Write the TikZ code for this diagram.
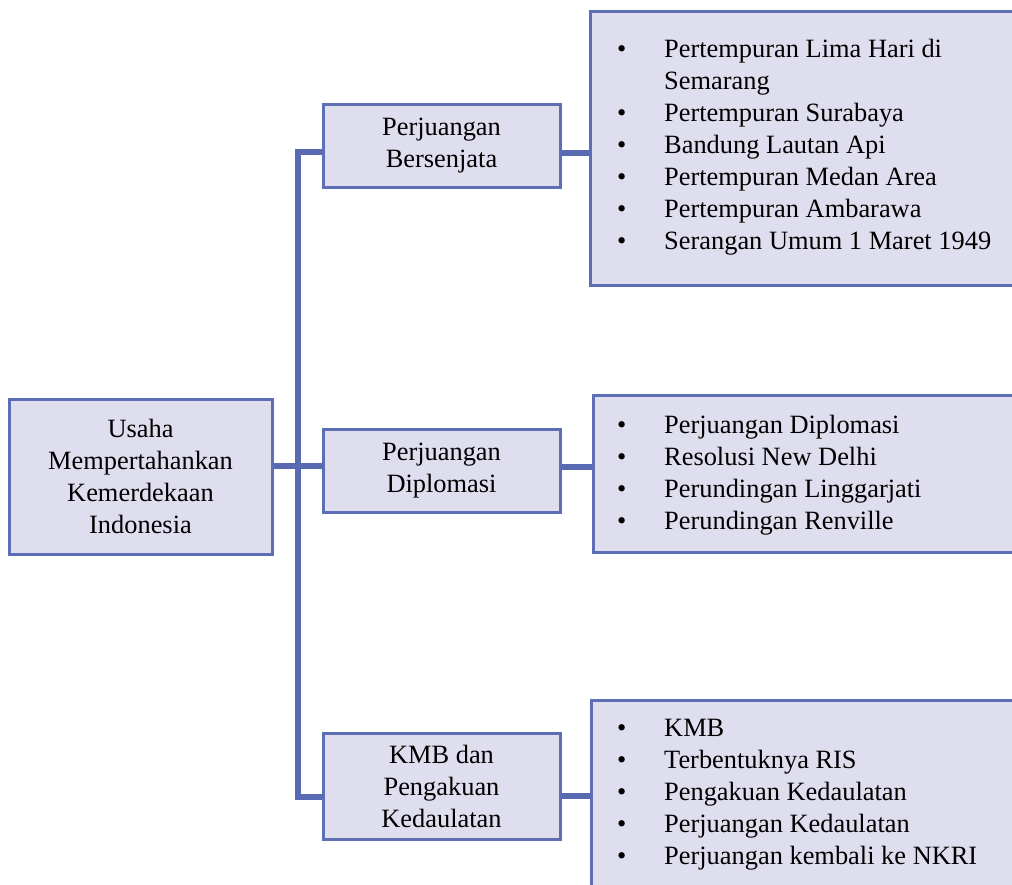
\documentclass[tikz,border=0pt]{standalone}
\usepackage{fontspec}
\setmainfont{Liberation Serif}
\definecolor{boxfill}{RGB}{222,222,238}
\definecolor{boxline}{RGB}{92,110,182}
\definecolor{connline}{RGB}{88,106,178}
\tikzset{
  txt/.style={font={\fontsize{26.4}{32}\selectfont}},
  mainbox/.style={draw=boxline, line width=3pt, fill=boxfill, inner sep=0pt, align=center, txt},
  listbox/.style={draw=boxline, line width=3pt, fill=boxfill, inner sep=0pt, anchor=north west},
  listtext/.style={inner sep=0pt, anchor=north west, align=left, txt},
  conn/.style={draw=connline, line width=6pt}
}
\newcommand{\bul}{\makebox[47pt][l]{•}}
\newcommand{\ind}{\hspace*{47pt}}
\begin{document}
\begin{tikzpicture}[x=1pt,y=-1pt]
\useasboundingbox (0,0) rectangle (1012,884);
\clip (0,0) rectangle (1012,884);

% list boxes (extend beyond the page edge)
\node[listbox, minimum width=460pt, minimum height=274pt] (l1) at (589,10) {};
\node[listbox, minimum width=460pt, minimum height=157pt] (l2) at (592,394) {};
\node[listbox, minimum width=460pt, minimum height=220pt] (l3) at (590,699) {};

\node[listtext] (t1) at (617,39) {\bul Pertempuran Lima Hari di\\ \ind Semarang\\ \bul Pertempuran Surabaya\\ \bul Bandung Lautan Api\\ \bul Pertempuran Medan Area\\ \bul Pertempuran Ambarawa\\ \bul Serangan Umum 1 Maret 1949};
\node[listtext] (t2) at (617,415) {\bul Perjuangan Diplomasi\\ \bul Resolusi New Delhi\\ \bul Perundingan Linggarjati\\ \bul Perundingan Renville};
\node[listtext] (t3) at (617,718.5) {\bul KMB\\ \bul Terbentuknya RIS\\ \bul Pengakuan Kedaulatan\\ \bul Perjuangan Kedaulatan\\ \bul Perjuangan kembali ke NKRI};

% main boxes
\node[mainbox, minimum width=263pt, minimum height=155pt] (root) at (140.5,476.5) {Usaha\\ Mempertahankan\\ Kemerdekaan\\ Indonesia};
\node[mainbox, minimum width=237pt, minimum height=83pt] (b1) at (441.5,145.5) {Perjuangan\\ Bersenjata};
\node[mainbox, minimum width=237pt, minimum height=83pt] (b2) at (441.5,470.5) {Perjuangan\\ Diplomasi};
\node[mainbox, minimum width=237pt, minimum height=106pt] (b3) at (441.5,786) {KMB dan\\ Pengakuan\\ Kedaulatan};

\coordinate (trunk) at (297.5,466);

% connectors
\draw[conn] ([yshift=-6.5pt]b1.west) -| (trunk) |- ([yshift=-11pt]b3.west);
\draw[conn] ([yshift=10.5pt]root.east) -- ([yshift=4.5pt]b2.west);
\draw[conn] ([yshift=-7.5pt]b1.east) -- ([yshift=-7.5pt]b1.east -| l1.west);
\draw[conn] ([yshift=3.5pt]b2.east) -- ([yshift=3.5pt]b2.east -| l2.west);
\draw[conn] ([yshift=-10pt]b3.east) -- ([yshift=-10pt]b3.east -| l3.west);
\end{tikzpicture}
\end{document}
